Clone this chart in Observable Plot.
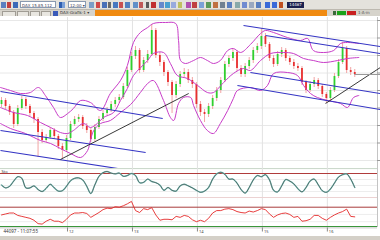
<!DOCTYPE html>
<html><head><meta charset="utf-8">
<script src="https://cdn.jsdelivr.net/npm/d3@7"></script>
<script src="https://cdn.jsdelivr.net/npm/@observablehq/plot@0.6"></script>
<style>
body{margin:0;width:380px;height:240px;overflow:hidden;background:#fff;position:relative;font-family:"DejaVu Sans",sans-serif;}
.abs{position:absolute;}
.ic{position:absolute;top:2px;width:5px;height:6px;}
.box{position:absolute;top:1px;height:7px;background:#fff;border:1px solid #8a9ab0;font-size:4px;line-height:7px;color:#445;padding-left:1px;box-sizing:border-box;}
.tab{position:absolute;top:11px;height:5px;border:1px solid #a09c94;border-bottom:none;background:#e8e6e0;box-sizing:border-box;}
</style></head><body>
<div class="abs" style="left:0;top:0;width:380px;height:10px;background:#e4e2dc;border-bottom:1px solid #bdb9b0;box-sizing:border-box"></div>
<div class="ic" style="left:1px;background:#5a7fc0"></div>
<div class="ic" style="left:7px;background:#c04040;width:4px"></div>
<div class="ic" style="left:13px;background:#3c6ab8"></div>
<div class="box" style="left:20px;width:36px">DAX 15.85.112 ▾</div>
<div class="ic" style="left:59px;background:#2f5fb0"></div>
<div class="ic" style="left:62px;background:#7aa0d8;width:3px"></div>
<div class="box" style="left:68px;width:18px">12:00 ▾</div>
<div class="ic" style="left:89px;background:#7a9ec8"></div>
<div class="ic" style="left:96px;background:#d04848;width:4px"></div>
<div class="ic" style="left:102px;background:#4870b8"></div>
<div class="ic" style="left:108px;background:#6a6a6a;width:3px"></div>
<div class="ic" style="left:113px;background:#4878c0"></div>
<div class="ic" style="left:119px;background:#c85050;width:4px"></div>
<div class="ic" style="left:125px;background:#5080c0"></div>
<div class="ic" style="left:133px;background:#6090c8"></div>
<div class="ic" style="left:139px;background:#c05858;width:4px"></div>
<div class="ic" style="left:146px;background:#5a5a5a;width:3px"></div>
<div class="ic" style="left:151px;background:#c03030"></div>
<div class="ic" style="left:159px;background:#6688cc"></div>
<div class="ic" style="left:165px;background:#4aa0d0"></div>
<div class="ic" style="left:171px;background:#9ad"></div>
<div class="ic" style="left:178px;background:#c0c060;width:4px"></div>
<div class="ic" style="left:186px;background:#b050b0"></div>
<div class="ic" style="left:192px;background:#c04040"></div>
<div class="ic" style="left:199px;background:#7aa0d8"></div>
<div class="ic" style="left:206px;background:#5a9a5a"></div>
<div class="ic" style="left:213px;background:#c07040"></div>
<div class="ic" style="left:220px;background:#708090"></div>
<div class="ic" style="left:227px;background:#5a7fc0"></div>
<div class="ic" style="left:235px;background:#8aa"></div>
<div class="ic" style="left:242px;background:#708ad0"></div>
<div class="ic" style="left:249px;background:#9aa8c0"></div>
<div class="ic" style="left:256px;background:#5a7fc0"></div>
<div class="ic" style="left:265px;background:#3a6ad8"></div>
<div class="ic" style="left:272px;background:#3a6ad8"></div>
<div class="ic" style="left:279px;background:#c05020;width:4px"></div>
<div class="abs" style="left:287px;top:2px;width:17px;height:6px;background:#1a2050;color:#fff;font-size:4px;line-height:6px;text-align:center">14467</div>
<div class="abs" style="left:0;top:10px;width:95px;height:6px;background:#d6d3cb"></div>
<div class="tab" style="left:2px;width:14px"></div>
<div class="tab" style="left:17px;width:12px"></div>
<div class="tab" style="left:30px;width:10px"></div>
<div class="tab" style="left:41px;width:10px"></div>
<div class="abs" style="left:53px;top:11px;width:5px;height:5px;background:#3a5ab8"></div>
<div class="abs" style="left:60px;top:10px;width:33px;height:6px;font-size:4px;line-height:6px;color:#333">DAX-Grafik-1 ▾</div>
<div class="abs" style="left:95px;top:10px;width:232px;height:6px;background:#f08a10"></div>
<div class="abs" style="left:327px;top:10px;width:53px;height:6px;background:#d6d3cb"></div>
<div class="abs" style="left:333px;top:11px;width:3px;height:4px;background:#3a6a3a"></div>
<div class="abs" style="left:337px;top:11px;width:9px;height:4px;background:#1aa21a"></div>
<div class="abs" style="left:347px;top:11px;width:9px;height:4px;background:#c82020"></div>
<div class="abs" style="left:358px;top:10px;width:22px;height:6px;font-size:4px;line-height:6px;color:#555">1·A·m</div>
<div id="main" class="abs" style="left:0;top:16px"></div>
<div id="p1" class="abs" style="left:0;top:168px"></div>
<div id="p2" class="abs" style="left:0;top:198px"></div>
<div id="ax" class="abs" style="left:0;top:227px"></div>
<div class="abs" style="left:0;top:236px;width:380px;height:4px;background:#d4d0c8"></div>
<script>
// ---- data (bar index k, price units) ----
const open  = [66,70,64,58,46,62,71,64,57,51,38,30,33,40,34,24,20,32,46,51,53,44,40,31,43,51,57,60,66,70,73,84,100,114,120,100,110,116,140,115,108,98,88,75,86,96,98,90,86,66,58,56,64,72,80,90,106,112,118,102,96,104,110,120,124,134,126,112,106,116,120,112,108,104,102,88,80,86,90,84,76,72,80,94,108,122,100,98];
const close = [70,64,58,46,62,71,64,57,51,38,30,33,40,34,24,20,32,46,51,53,44,40,31,43,51,57,60,66,70,73,84,100,114,120,100,110,116,140,115,108,98,88,75,86,96,98,90,86,66,58,56,64,72,80,90,106,112,118,102,96,104,110,120,124,134,126,112,106,116,120,112,108,104,102,88,80,86,90,84,76,72,80,94,108,122,100,98,96];
const high  = [73,72,66,60,65,74,73,66,59,53,41,36,43,42,36,27,35,49,54,56,55,47,42,46,54,60,63,69,73,76,87,103,118,124,122,113,120,146,142,118,110,100,90,89,99,102,101,93,88,69,61,67,75,83,93,109,115,121,120,105,107,113,123,127,142,137,128,115,119,123,122,114,111,107,104,90,89,93,92,86,78,83,97,111,128,124,103,101];
const low   = [63,61,55,42,44,60,61,54,47,13,27,28,31,31,21,12,18,30,44,48,41,37,28,29,41,49,55,58,63,67,71,82,98,111,97,98,107,114,112,104,94,84,57,72,83,93,87,82,62,54,48,53,61,69,77,88,103,109,99,93,93,101,107,117,121,123,109,103,104,113,109,105,101,99,85,77,78,83,81,73,67,70,78,92,106,97,95,93];
const stoch = [51,44,48,61,72,68,44,44,49,40,35,43,53,44,36,37,48,62,68,69,64,48,30,52,73,82,85,81,79,81,73,75,80,75,57,58,66,60,57,51,38,45,38,36,49,53,49,44,38,33,36,45,66,79,83,78,66,66,56,40,31,45,64,75,72,77,64,38,34,49,65,61,54,42,34,45,61,66,52,37,33,41,56,71,77,79,66,45];
const rsi   = [54,56,58,58,53,51,49,47,43,36,35,41,45,41,41,38,45,54,58,58,59,57,49,54,59,65,68,67,71,70,73,77,82,63,59,67,65,69,54,43,45,45,44,51,49,53,51,44,40,43,40,47,58,63,63,66,67,65,61,59,58,62,60,63,67,65,56,49,54,57,58,55,49,51,41,42,45,53,53,47,43,49,54,58,61,66,51,50];
const bbUpper  = [[-0.25,83],[2.2,80],[4.7,77],[7.1,78],[9.1,83],[10.8,75],[12.8,63],[14.5,53],[16.3,57],[17.7,62],[19.5,70],[21.9,68],[24.4,60],[26.8,77],[29.3,90],[31,105],[32.5,128],[34.2,138],[36,143],[37.4,147],[40.4,148],[42.9,147],[43.6,130],[44.1,110],[45.3,107],[47.3,110],[49,113],[50.7,110],[52.2,107],[53.9,110],[55.7,120],[57.1,122],[58.9,118],[61.3,126],[63.8,137],[65,140],[67,138],[70.4,133],[73.6,130],[75.4,132],[76.8,120],[79.3,118],[81.8,120],[83.5,127],[85.2,128],[88,127]];
const bbMiddle = [[-0.25,63],[3,58],[6.4,55],[9.6,48],[12.1,43],[14.5,38],[16.3,37],[17.7,40],[20.2,47],[21.9,43],[23.6,47],[25.1,53],[27.6,58],[29.3,70],[31,82],[32.5,95],[36,110],[37.4,117],[39.9,118],[41.6,107],[43.3,95],[45.8,92],[48.3,85],[50.7,78],[52.2,78],[54.7,88],[57.1,97],[59.6,102],[61.3,100],[63.8,110],[66.3,117],[69.5,118],[71.9,117],[74.4,112],[76.8,110],[79.3,108],[82.8,110],[85.2,112],[88,113]];
const bbLower  = [[-0.25,47],[2.2,42],[5.9,37],[9.6,30],[12.1,27],[14.5,22],[17,17],[19.5,13],[21.2,20],[21.9,30],[22.7,40],[24.4,47],[26.8,50],[29.3,58],[31.8,66],[34.2,78],[36,87],[37.4,90],[39.9,70],[41.6,53],[42.4,50],[43.6,67],[44.8,73],[46.6,73],[47.3,65],[49,50],[50.7,40],[52.2,37],[53.9,47],[55.7,60],[57.1,72],[58.1,80],[61.3,83],[63.8,80],[65.5,85],[67,97],[70.4,98],[72.9,95],[74.4,85],[76.1,77],[77.8,73],[80.3,70],[83.5,67],[85.2,63],[86.7,73],[88,75]];
const channelLines = [[-0.25,79,39.7,52],[-0.25,40,35.5,18],[-0.25,20,31.8,0],[59.6,145,93.3,124],[65,135,93.3,117],[61.3,98,93.3,77],[58.1,85,93.3,61]];
const trendLines = [[14.5,11,46.1,77],[79.8,67,93.3,103]];
const dayStarts = [16.25,32.25,48.25,64.25,80.25];
const dayLabels = ["12","13","14","15","16"];
const priceGrid = [10,27.5,45,62.5,80,97.5,115,132.5,150];
const stochLevels = [80,20];
const rsiLevels = [70,30];
const stamp = "44097 - 11:07:55";

// ---- build ----
const xDomain = [-0.25, 92.6];
const xEdge = 93.35;
const W = 380;
const bars = close.map((c,i)=>({k:i,o:open[i],c,h:high[i],l:low[i],col:c>=open[i]?"#2fd12f":"#e83030"}));
const chan = channelLines.map(d=>({x1:d[0],y1:d[1],x2:d[2],y2:d[3]}));
const trend = trendLines.map(d=>({x1:d[0],y1:d[1],x2:d[2],y2:d[3]}));
const base = {width:W, marginLeft:0, marginRight:3, x:{type:"linear", domain:xDomain, axis:null}, color:{type:"identity"}, style:{background:"transparent"}};

const main = Plot.plot({...base, height:152, marginTop:1, marginBottom:0,
  y:{domain:[2,153], axis:null},
  marks:[
    Plot.ruleY(priceGrid,{stroke:"#e8e8e8"}),
    Plot.ruleX(dayStarts,{stroke:"#e2e2e2"}),
    Plot.ruleX([xDomain[1]],{stroke:"#c4c4c4"}),
    Plot.ruleX(bars,{x:"k",y1:"l",y2:"h",stroke:"#f09a9a",strokeWidth:0.9}),
    Plot.ruleX(bars,{x:"k",y1:"o",y2:"c",stroke:"col",strokeWidth:1.8}),
    Plot.line(bbUpper,{x:d=>d[0],y:d=>d[1],stroke:"#c83cc8",strokeWidth:1,curve:"catmull-rom"}),
    Plot.line(bbMiddle,{x:d=>d[0],y:d=>d[1],stroke:"#c83cc8",strokeWidth:1,curve:"catmull-rom"}),
    Plot.line(bbLower,{x:d=>d[0],y:d=>d[1],stroke:"#c83cc8",strokeWidth:1,curve:"catmull-rom"}),
    Plot.link(chan,{x1:"x1",y1:"y1",x2:"x2",y2:"y2",stroke:"#3434c4",strokeWidth:1.1}),
    Plot.link(trend,{x1:"x1",y1:"y1",x2:"x2",y2:"y2",stroke:"#222",strokeWidth:0.9}),
    Plot.ruleY([close[close.length-1]],{x1:close.length-1,x2:xEdge,stroke:"#999"}),
    Plot.ruleY(priceGrid,{x1:xDomain[1],x2:xEdge,stroke:"#999"})
  ]});
document.getElementById("main").append(main);

const p1 = Plot.plot({...base, height:30, marginTop:0, marginBottom:0,
  y:{domain:[17.5,92.5], axis:null},
  marks:[
    Plot.ruleY([92.3],{stroke:"#c8d6c8"}),
    Plot.ruleY([35,50,65],{stroke:"#ededed"}),
    Plot.ruleX(dayStarts,{stroke:"#e2e2e2"}),
    Plot.ruleX([xDomain[1]],{stroke:"#c4c4c4"}),
    Plot.ruleY([stochLevels[0]],{stroke:"#b03c3c"}),
    Plot.ruleY([stochLevels[1]],{stroke:"#ecd2d2"}),
    Plot.line(stoch,{x:(d,i)=>i,y:d=>d,stroke:"#7cc8c0",strokeWidth:1.4,curve:"catmull-rom"}),
    Plot.line(stoch,{x:(d,i)=>i,y:d=>d,stroke:"#4a5654",strokeWidth:0.8,curve:"catmull-rom"}),
    Plot.text(["Sto"],{frameAnchor:"top-left",dx:1,dy:2,fontSize:4,fill:"#333"})
  ]});
document.getElementById("p1").append(p1);

const p2 = Plot.plot({...base, height:29, marginTop:0, marginBottom:0,
  y:{domain:[28,88], axis:null},
  marks:[
    Plot.ruleY([40,55],{stroke:"#ededed"}),
    Plot.ruleX(dayStarts,{stroke:"#e2e2e2"}),
    Plot.ruleX([xDomain[1]],{stroke:"#c4c4c4"}),
    Plot.ruleY([rsiLevels[0]],{stroke:"#a83a3a"}),
    Plot.ruleY([rsiLevels[1]],{stroke:"#3a963a",strokeWidth:1.2}),
    Plot.line(rsi,{x:(d,i)=>i,y:d=>d,stroke:"#e42828",strokeWidth:0.9})
  ]});
document.getElementById("p2").append(p2);

const ax = Plot.plot({...base, height:9, marginTop:0, marginBottom:0,
  y:{domain:[0,9], axis:null},
  marks:[
    Plot.ruleY([8.6],{stroke:"#c8c8c8"}),
    Plot.ruleX(dayStarts,{y1:4.5,y2:8.6,stroke:"#888"}),
    Plot.text(dayLabels,{x:(d,i)=>dayStarts[i],y:4.5,dx:1.5,textAnchor:"start",fontSize:4,fill:"#444"}),
    Plot.text([stamp],{x:xDomain[0],y:4.5,dx:3,textAnchor:"start",fontSize:4.5,fill:"#333"})
  ]});
document.getElementById("ax").append(ax);
</script>
</body></html>
